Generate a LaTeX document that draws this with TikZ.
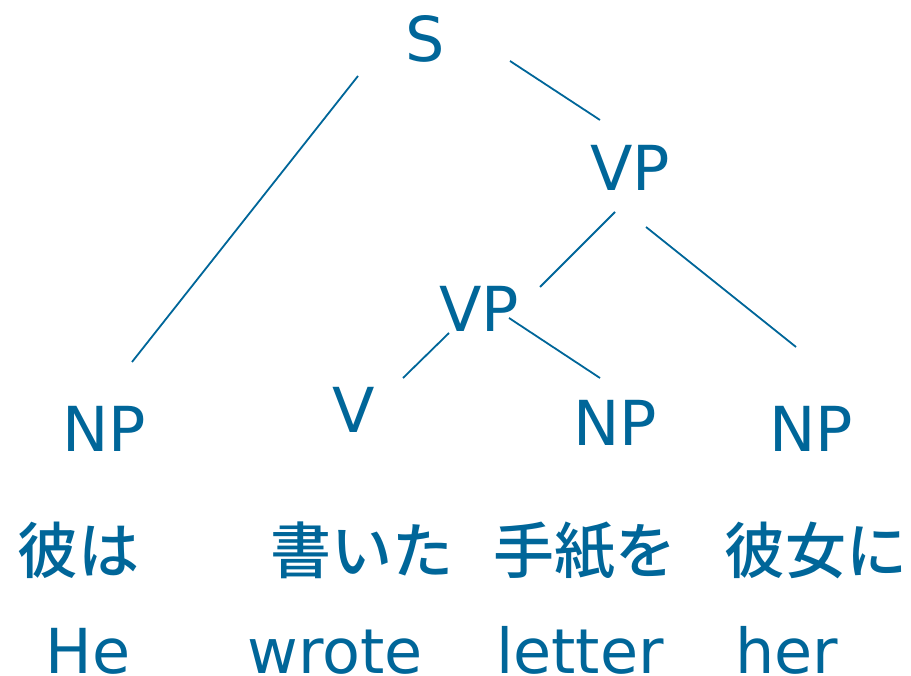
\documentclass[tikz,border=0pt]{standalone}
\usepackage{fontspec}
\setmainfont{DejaVu Sans}
\newfontfamily\jpfont{Noto Sans CJK JP}[UprightFont=* Medium]
\definecolor{treeblue}{RGB}{0,102,153}
\begin{document}
\begin{tikzpicture}[x=1pt,y=-1pt,
  lab/.style={anchor=base,inner sep=0pt,text depth=0pt,text=treeblue,font=\fontsize{62}{70}\selectfont},
  jp/.style={anchor=base,inner sep=0pt,text depth=0pt,text=treeblue,font=\fontsize{61}{70}\selectfont\jpfont},
  edge/.style={draw=treeblue,line width=1.8pt}]
\useasboundingbox (0,0) rectangle (911,676);
% category nodes
\node[lab] (S) at (425,62) {S};
\node[lab] (VPt) at (630,191) {VP};
\node[lab] (VPm) at (479,332) {VP};
\node[lab] (V) at (354,432) {V};
\node[lab] (NPl) at (104,452) {NP};
\node[lab] (NPm) at (615,446) {NP};
\node[lab] (NPr) at (811,452) {NP};
% Japanese words
\node[jp] (j1) at (78,573) {彼は};
\node[jp] (j2) at (362,573) {書いた};
\node[jp] (j3) at (585,573) {手紙を};
\node[jp] (j4) at (816,573) {彼女に};
% English glosses
\node[lab] (e1) at (88,673) {He};
\node[lab] (e2) at (335,673) {wrote};
\node[lab] (e3) at (580,673) {letter};
\node[lab] (e4) at (787,673) {her};
% connector end points
\coordinate (S-l) at ([shift={(-67,14)}]S.base);
\coordinate (S-r) at ([shift={(85,-1)}]S.base);
\coordinate (NPl-t) at ([shift={(28,-90)}]NPl.base);
\coordinate (VPt-t) at ([shift={(-30,-71)}]VPt.base);
\coordinate (VPt-l) at ([shift={(-15,21)}]VPt.base);
\coordinate (VPt-r) at ([shift={(16,36)}]VPt.base);
\coordinate (VPm-t) at ([shift={(61,-45)}]VPm.base);
\coordinate (VPm-l) at ([shift={(-30,1)}]VPm.base);
\coordinate (VPm-r) at ([shift={(30,-14)}]VPm.base);
\coordinate (V-t) at ([shift={(49,-54)}]V.base);
\coordinate (NPm-t) at ([shift={(-15,-68)}]NPm.base);
\coordinate (NPr-t) at ([shift={(-15,-105)}]NPr.base);
% connectors
\draw[edge] (S-l) -- (NPl-t);
\draw[edge] (S-r) -- (VPt-t);
\draw[edge] (VPt-l) -- (VPm-t);
\draw[edge] (VPt-r) -- (NPr-t);
\draw[edge] (VPm-l) -- (V-t);
\draw[edge] (VPm-r) -- (NPm-t);
\end{tikzpicture}
\end{document}
